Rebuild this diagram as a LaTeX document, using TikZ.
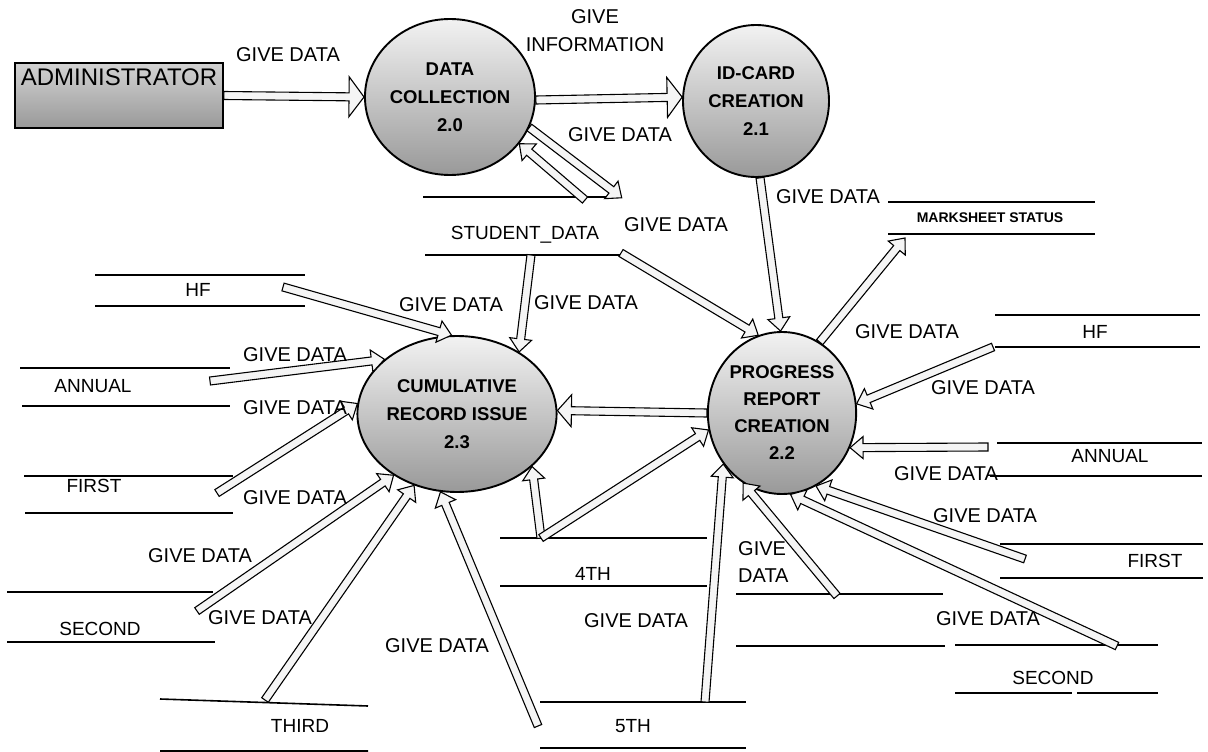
\documentclass[tikz,border=0pt]{standalone}
\usepackage{fontspec}
\setmainfont{Liberation Sans}
\usetikzlibrary{calc,shapes.geometric}
\newlength\shw \newlength\hdw \newlength\hdl
\newcommand\flowarrow[3][]{%
  \begingroup
  \setlength\shw{4pt}\setlength\hdw{11pt}\setlength\hdl{13pt}%
  #1%
  \draw[flow] let \p1=(#2), \p2=(#3), \n1={atan2(\y2-\y1,\x2-\x1)}, \n2={veclen(\x2-\x1,\y2-\y1)} in
    [shift={(\p1)}, rotate=\n1]
    (0pt,\shw) -- ({\n2-\hdl},\shw) -- ({\n2-\hdl},\hdw) -- ({\n2+0pt},0pt) -- ({\n2-\hdl},-\hdw) -- ({\n2-\hdl},-\shw) -- (0pt,-\shw) -- cycle;
  \endgroup}
\tikzset{
  proc/.style={ellipse, draw=black, line width=1.9pt, minimum width=146pt, minimum height=156pt,
    inner sep=0pt, top color=gray!10, bottom color=gray!80, align=center,
    font=\bfseries\fontsize{18.5}{28}\selectfont},
  admin/.style={rectangle, draw=black, line width=1.6pt, minimum width=208pt, inner xsep=2pt, inner ysep=5pt,
    text height=17.2pt, text depth=38pt, top color=gray!35, bottom color=gray!80,
    font=\fontsize{24}{24}\selectfont},
  flow/.style={draw=black, line width=1.1pt, fill=gray!8, line join=miter},
  lbl/.style={inner sep=0pt, text depth=0pt, font=\fontsize{20}{20}\selectfont},
  slbl/.style={inner sep=0pt, text depth=0pt, font=\fontsize{19}{19}\selectfont},
  storeline/.style={line width=1.6pt},
}
\begin{document}
\begin{tikzpicture}[x=1pt,y=-1pt]
\useasboundingbox (0,0) rectangle (1208,752);

% ---------- data stores (lines) ----------
\draw[storeline] (423,197) -- (615,197) (425,255) -- (621,255);       % STUDENT_DATA
\draw[storeline] (888,202) -- (1095,202) (888,234) -- (1095,234);     % MARKSHEET
\draw[storeline] (95,275) -- (305,275) (95,306) -- (305,306);         % HF left
\draw[storeline] (995,315) -- (1200,315) (995,347) -- (1200,347);     % HF right
\draw[storeline] (20,368) -- (230,368) (22,406) -- (230,406);         % ANNUAL left
\draw[storeline] (997,443) -- (1202,443) (990,476) -- (1202,476);     % ANNUAL right
\draw[storeline] (24,476) -- (233,476) (25,513) -- (233,513);         % FIRST left
\draw[storeline] (1000,544) -- (1203,544) (1000,578) -- (1203,578);   % FIRST right
\draw[storeline] (7,592) -- (213,592) (7,642) -- (215,642);           % SECOND left
\draw[storeline] (955,645) -- (1158,645) (955,693) -- (1072,693) (1077,693) -- (1158,693); % SECOND right
\draw[storeline] (736,594) -- (943,594) (736,646) -- (945,646);       % unlabeled
\draw[storeline] (500,538) -- (707,538) (500,586) -- (707,586);       % 4TH
\draw[storeline] (540,702) -- (746,702) (540,748) -- (746,748);       % 5TH
\draw[storeline] (160,699) -- (368,706) (160,751) -- (368,751);       % THIRD

% ---------- external entity and processes ----------
\node[admin] (adm) at (119,95.5) {ADMINISTRATOR};
\node[proc] (c20) at (450,97) {DATA\\COLLECTION\\2.0};
\node[proc, minimum height=152pt] (c21) at (756,101) {ID-CARD\\CREATION\\2.1};
\node[proc] (c23) at (457,414) {CUMULATIVE\\RECORD ISSUE\\2.3};
\node[proc, minimum height=162pt, font=\bfseries\fontsize{18.5}{27}\selectfont] (c22) at (782,413) {PROGRESS\\REPORT\\CREATION\\2.2};

% ---------- connector ends on the stores ----------
\coordinate (sdIn) at (622,198);
\coordinate (sdOut) at (585,200);
\coordinate (sdA) at (531,255);
\coordinate (sdB) at (621,253);
\coordinate (msIn) at (905,238);
\coordinate (hfL) at (283,287);
\coordinate (annL) at (210,381);
\coordinate (fstL) at (217,493);
\coordinate (secL) at (197,611);
\coordinate (thd) at (265,700);
\coordinate (fifA) at (538,726);
\coordinate (fth) at (541,538);
\coordinate (fifB) at (705,702);
\coordinate (unl) at (837,596);
\coordinate (fstR) at (1025,559);
\coordinate (secR) at (1117,646);
\coordinate (annR) at (988,447);
\coordinate (hfR) at (993,347);

% ---------- flows ----------
\flowarrow[\setlength\hdw{20pt}\setlength\hdl{15pt}]{adm.east}{c20.180}
\flowarrow[\setlength\hdw{20pt}\setlength\hdl{15pt}]{c20.-2}{c21.177}
\flowarrow{c20.-21}{sdIn}
\flowarrow{sdOut}{c20.-34}
\flowarrow{c21.-87}{c22.91}
\flowarrow{sdA}{c23.45}
\flowarrow{sdB}{c22.107}
\flowarrow{c22.62}{msIn}
\flowarrow[\setlength\hdw{16pt}\setlength\hdl{14pt}]{c22.180}{c23.2}
\flowarrow{hfL}{c23.94}
\flowarrow{annL}{c23.143}
\flowarrow{fstL}{c23.174}
\flowarrow{secL}{c23.-136}
\flowarrow{thd}{c23.-121}
\flowarrow{fifA}{c23.-102}
\flowarrow{fth}{c23.-35}
\flowarrow{fth}{c22.-167}
\flowarrow{fifB}{c22.-139}
\flowarrow{unl}{c22.-119}
\flowarrow{fstR}{c22.-65}
\flowarrow{secR}{c22.-84}
\flowarrow{annR}{c22.-27}
\flowarrow{hfR}{c22.7}

% ---------- store labels ----------
\node[slbl] (sd) at (525,233) {STUDENT\_DATA};
\node[inner sep=0pt, text depth=0pt, font=\bfseries\fontsize{14}{14}\selectfont] (ms) at (990,218) {MARKSHEET STATUS};
\node[slbl] (shfl) at (198,290) {HF};
\node[slbl] (shfr) at (1095,332) {HF};
\node[slbl] (sannl) at (93,386) {ANNUAL};
\node[slbl] (sannr) at (1110,456) {ANNUAL};
\node[slbl] (sfstl) at (94,486) {FIRST};
\node[slbl] (sfstr) at (1155,561) {FIRST};
\node[slbl] (ssecl) at (100,629) {SECOND};
\node[slbl] (ssecr) at (1053,678) {SECOND};
\node[slbl] (s4) at (593,574) {4TH};
\node[slbl] (s5) at (633,726) {5TH};
\node[slbl] (s3) at (300,726) {THIRD};

% ---------- flow labels ----------
\node[lbl] (l1) at (288,55) {GIVE DATA};
\node[lbl, align=center, font=\fontsize{20}{28}\selectfont] (l2) at (595,31) {GIVE\\INFORMATION};
\node[lbl] (l3) at (620,135) {GIVE DATA};
\node[lbl] (l4) at (676,225) {GIVE DATA};
\node[lbl] (l5) at (828,197) {GIVE DATA};
\node[lbl] (l6) at (451,305) {GIVE DATA};
\node[lbl] (l7) at (586,303) {GIVE DATA};
\node[lbl] (l8) at (295,355) {GIVE DATA};
\node[lbl] (l9) at (295,408) {GIVE DATA};
\node[lbl] (l10) at (295,498) {GIVE DATA};
\node[lbl] (l11) at (200,556) {GIVE DATA};
\node[lbl] (l12) at (260,618) {GIVE DATA};
\node[lbl] (l13) at (437,646) {GIVE DATA};
\node[lbl] (l14) at (636,621) {GIVE DATA};
\node[lbl, align=left, anchor=west, font=\fontsize{20}{27}\selectfont] (l15) at (738,562) {GIVE\\DATA};
\node[lbl] (l16) at (907,332) {GIVE DATA};
\node[lbl] (l17) at (983,388) {GIVE DATA};
\node[lbl] (l18) at (946,474) {GIVE DATA};
\node[lbl] (l19) at (985,516) {GIVE DATA};
\node[lbl] (l20) at (988,619) {GIVE DATA};
\end{tikzpicture}
\end{document}
